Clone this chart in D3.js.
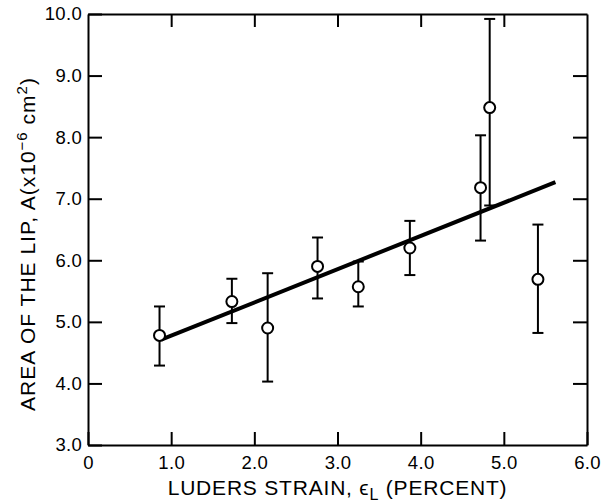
<!DOCTYPE html>
<html>
<head>
<meta charset="utf-8">
<script src="https://cdn.jsdelivr.net/npm/d3@7"></script>
<style>
  html, body { margin: 0; padding: 0; background: #fff; }
  svg { display: block; }
  text { font-family: "Liberation Sans", Arial, Helvetica, sans-serif; fill: #000; }
</style>
</head>
<body>
<svg id="chart" width="611" height="502"></svg>
<script>
// ---- data ----
const xTickValues = [0, 1, 2, 3, 4, 5, 6];
const xTickLabels = ["0", "1.0", "2.0", "3.0", "4.0", "5.0", "6.0"];
const yTickValues = [3, 4, 5, 6, 7, 8, 9, 10];
const yTickLabels = ["3.0", "4.0", "5.0", "6.0", "7.0", "8.0", "9.0", "10.0"];

const strain   = [0.86, 1.73, 2.16, 2.76, 3.25, 3.87, 4.72, 4.83, 5.41];
const lipArea  = [4.78, 5.33, 4.90, 5.90, 5.57, 6.20, 7.18, 8.48, 5.69];
const errHigh  = [5.25, 5.70, 5.79, 6.37, 5.98, 6.64, 8.03, 9.92, 6.58];
const errLow   = [4.29, 4.98, 4.03, 5.38, 5.25, 5.76, 6.32, 6.89, 4.82];

const fitStrain = [0.88, 5.62];
const fitArea   = [4.71, 7.27];

// ---- drawing ----
const svg = d3.select("#chart");
const x = d3.scaleLinear().domain([0, 6]).range([88, 587]);
const y = d3.scaleLinear().domain([3, 10]).range([445, 14]);

const points = strain.map((s, i) => ({ s, a: lipArea[i], hi: errHigh[i], lo: errLow[i] }));

const fmtX = d => xTickLabels[xTickValues.indexOf(d)];
const fmtY = d => yTickLabels[yTickValues.indexOf(d)];

const gB = svg.append("g").attr("transform", `translate(0,${y(3)})`)
  .call(d3.axisBottom(x).tickValues(xTickValues).tickFormat(fmtX).tickSizeInner(-13).tickSizeOuter(0).tickPadding(11));
const gT = svg.append("g").attr("transform", `translate(0,${y(10)})`)
  .call(d3.axisTop(x).tickValues([1, 2, 3, 4, 5]).tickFormat("").tickSizeInner(-13).tickSizeOuter(0));
const gL = svg.append("g").attr("transform", `translate(${x(0)},0)`)
  .call(d3.axisLeft(y).tickValues(yTickValues).tickFormat(fmtY).tickSizeInner(-14).tickSizeOuter(0).tickPadding(6));
const gR = svg.append("g").attr("transform", `translate(${x(6)},0)`)
  .call(d3.axisRight(y).tickValues([4, 5, 6, 7, 8, 9]).tickFormat("").tickSizeInner(-14).tickSizeOuter(0));

[gB, gT, gL, gR].forEach(g => {
  g.select(".domain").attr("stroke", "#000").attr("stroke-width", 2);
  g.selectAll(".tick line").attr("stroke", "#000").attr("stroke-width", 2);
  g.selectAll(".tick text").style("font-family", "'Liberation Sans', Arial, sans-serif")
    .style("font-size", "18.5px").style("letter-spacing", "0.3px").attr("fill", "#000");
});

// fit line
svg.append("path")
  .datum(fitStrain.map((s, i) => [s, fitArea[i]]))
  .attr("fill", "none").attr("stroke", "#000").attr("stroke-width", 4)
  .attr("d", d3.line().x(d => x(d[0])).y(d => y(d[1])));

// error bars
const eb = svg.append("g").attr("stroke", "#000").attr("stroke-width", 2);
eb.selectAll("line.v").data(points).join("line").attr("class", "v")
  .attr("x1", d => x(d.s)).attr("x2", d => x(d.s))
  .attr("y1", d => y(d.hi)).attr("y2", d => y(d.lo));
eb.selectAll("line.t").data(points).join("line").attr("class", "t")
  .attr("x1", d => x(d.s) - 5.5).attr("x2", d => x(d.s) + 5.5)
  .attr("y1", d => y(d.hi)).attr("y2", d => y(d.hi));
eb.selectAll("line.b").data(points).join("line").attr("class", "b")
  .attr("x1", d => x(d.s) - 5.5).attr("x2", d => x(d.s) + 5.5)
  .attr("y1", d => y(d.lo)).attr("y2", d => y(d.lo));

// open circles
svg.append("g").selectAll("circle").data(points).join("circle")
  .attr("cx", d => x(d.s)).attr("cy", d => y(d.a)).attr("r", 5.5)
  .attr("fill", "#fff").attr("stroke", "#000").attr("stroke-width", 2);

// x title
const xt = svg.append("text")
  .attr("x", (x(0) + x(6)) / 2).attr("y", 495)
  .attr("text-anchor", "middle").style("font-size", "21px").style("letter-spacing", "0.8px");
xt.append("tspan").text("LUDERS STRAIN, ϵ");
xt.append("tspan").attr("dy", 5).style("font-size", "16px").text("L");
xt.append("tspan").attr("dy", -5).text(" (PERCENT)");

// y title
const yt = svg.append("text")
  .attr("transform", `translate(35,244) rotate(-90)`)
  .attr("text-anchor", "middle").style("font-size", "21px").style("letter-spacing", "1px");
yt.append("tspan").text("AREA OF THE LIP, A(x10");
yt.append("tspan").attr("dy", -8).style("font-size", "15px").text("−6");
yt.append("tspan").attr("dy", 8).text(" cm");
yt.append("tspan").attr("dy", -8).style("font-size", "15px").text("2");
yt.append("tspan").attr("dy", 8).text(")");
</script>
</body>
</html>
